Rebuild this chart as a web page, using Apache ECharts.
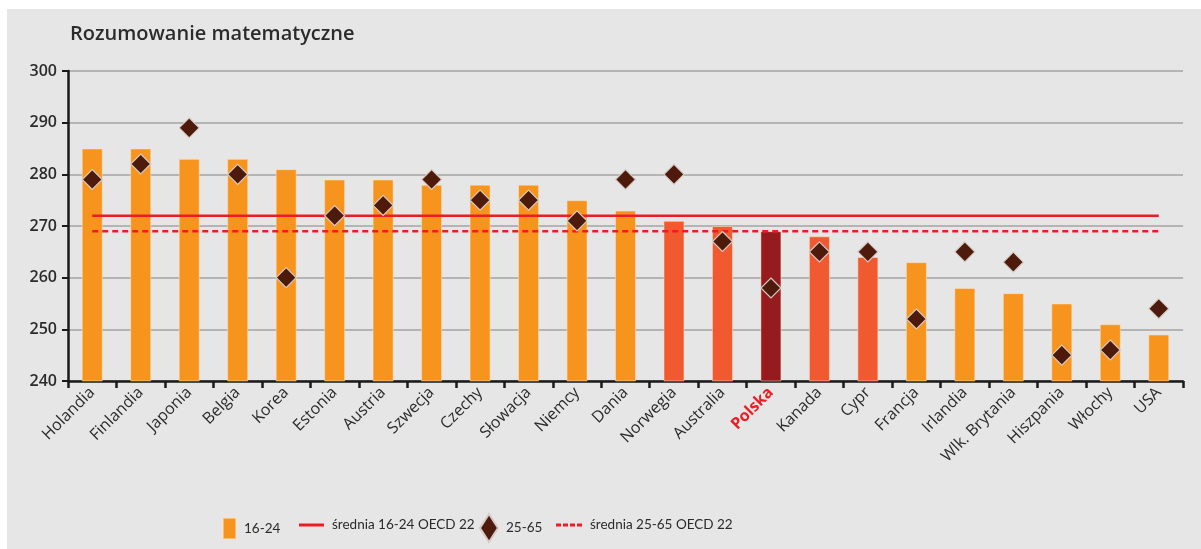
<!DOCTYPE html>
<html lang="pl">
<head>
<meta charset="UTF-8">
<title>Rozumowanie matematyczne</title>
<style>
  body { margin: 0; background: #ffffff; }
  #main { position: absolute; left: 7px; top: 9px; width: 1194px; height: 540px; background: #e6e6e6; }
</style>
</head>
<body>
<div id="main"></div>
<script src="https://cdn.jsdelivr.net/npm/echarts@6/dist/echarts.min.js"></script>
<script>
// dane
var countries = ['Holandia', 'Finlandia', 'Japonia', 'Belgia', 'Korea', 'Estonia', 'Austria', 'Szwecja',
  'Czechy', 'Słowacja', 'Niemcy', 'Dania', 'Norwegia', 'Australia', 'Polska', 'Kanada', 'Cypr',
  'Francja', 'Irlandia', 'Wlk. Brytania', 'Hiszpania', 'Włochy', 'USA'];
var young = [285, 285, 283, 283, 281, 279, 279, 278, 278, 278, 275, 273, 271, 270, 269, 268, 264,
  263, 258, 257, 255, 251, 249];
var adults = [279, 282, 289, 280, 260, 272, 274, 279, 275, 275, 271, 279, 280, 267, 258, 265, 265,
  252, 265, 263, 245, 246, 254];
var avgYoung = 272;   // średnia 16-24 OECD 22
var avgAdults = 269;  // średnia 25-65 OECD 22
var highlighted = ['Norwegia', 'Australia', 'Kanada', 'Cypr'];
var yTicks = [240, 250, 260, 270, 280, 290, 300];

var ORANGE = '#f7941e', RED_ORANGE = '#f15a31', DARK_RED = '#961b1e', RED = '#ed1c24', BROWN = '#4e1a0b';
var SANS = "'Open Sans', sans-serif";

var myChart = echarts.init(document.getElementById('main'));

var barData = young.map(function (v, i) {
  var c = countries[i];
  var col = c === 'Polska' ? DARK_RED : (highlighted.indexOf(c) >= 0 ? RED_ORANGE : ORANGE);
  return { value: v, itemStyle: { color: col } };
});

function legendText() {
  return { fontFamily: 'Lato', fontSize: 13.5, color: '#2b2b2b', padding: [0, 0, 0, 3] };
}

var option = {
  textStyle: { fontFamily: SANS },
  title: {
    text: 'Rozumowanie matematyczne',
    left: 58, top: 10,
    textStyle: { fontFamily: SANS, fontSize: 20, fontWeight: 600, color: '#2b2b2b' }
  },
  grid: { left: 61, right: 18, top: 62, bottom: 168 },
  legend: [
    { data: ['16-24'], left: 215, top: 508, padding: 0, icon: 'rect', itemWidth: 13, itemHeight: 21,
      textStyle: legendText() },
    { data: [{ name: 'średnia 16-24 OECD 22', icon: 'path://M0,0H25V3H0Z', itemStyle: { color: RED } }],
      left: 292, top: 509, padding: 0, itemWidth: 25, itemHeight: 3, textStyle: legendText() },
    { data: ['25-65'], left: 472, top: 504, padding: 0, icon: 'diamond', itemWidth: 18, itemHeight: 28,
      textStyle: legendText() },
    { data: [{ name: 'średnia 25-65 OECD 22',
      icon: 'path://M0,0H5V3H0Z M7,0H12V3H7Z M14,0H19V3H14Z M21,0H26V3H21Z', itemStyle: { color: RED } }],
      left: 549, top: 509, padding: 0, itemWidth: 26, itemHeight: 3, textStyle: legendText() }
  ],
  xAxis: {
    type: 'category',
    data: countries,
    axisLine: { lineStyle: { color: '#1a1a1a', width: 2.5 } },
    axisTick: { show: true, length: 7, lineStyle: { color: '#1a1a1a', width: 2.5 } },
    axisLabel: {
      rotate: 45, margin: 9, interval: 0,
      fontFamily: SANS, fontSize: 16, color: '#2b2b2b',
      formatter: function (v) { return v === 'Polska' ? '{p|' + v + '}' : v; },
      rich: { p: { color: RED, fontWeight: 'bold', fontSize: 16, fontFamily: SANS } }
    }
  },
  yAxis: {
    type: 'value',
    min: yTicks[0], max: yTicks[yTicks.length - 1], interval: 10,
    axisLine: { show: true, lineStyle: { color: '#1a1a1a', width: 2.5 } },
    axisTick: { show: true, length: 6, lineStyle: { color: '#1a1a1a', width: 2 } },
    axisLabel: { margin: 11, fontFamily: SANS, fontSize: 16, fontWeight: 600, color: '#2b2b2b' },
    splitLine: { lineStyle: { color: '#a3a3a3', width: 1.5 } }
  },
  series: [
    {
      name: '16-24', type: 'bar', data: barData, barWidth: 21,
      itemStyle: { color: ORANGE, borderColor: 'rgba(255,230,200,0.5)', borderWidth: 1 }, z: 2
    },
    {
      name: 'średnia 16-24 OECD 22', type: 'line', symbol: 'none',
      data: countries.map(function () { return avgYoung; }),
      lineStyle: { color: RED, width: 2.5 }, itemStyle: { color: RED }, z: 3
    },
    {
      name: 'średnia 25-65 OECD 22', type: 'line', symbol: 'none',
      data: countries.map(function () { return avgAdults; }),
      lineStyle: { color: RED, width: 2.5, type: [6, 4] }, itemStyle: { color: RED }, z: 3
    },
    {
      name: '25-65', type: 'scatter', symbol: 'diamond', symbolSize: 20, data: adults,
      itemStyle: { color: BROWN, borderColor: '#d6cbc4', borderWidth: 1.2, opacity: 1 }, z: 5
    }
  ]
};

myChart.setOption(option);
</script>
</body>
</html>
